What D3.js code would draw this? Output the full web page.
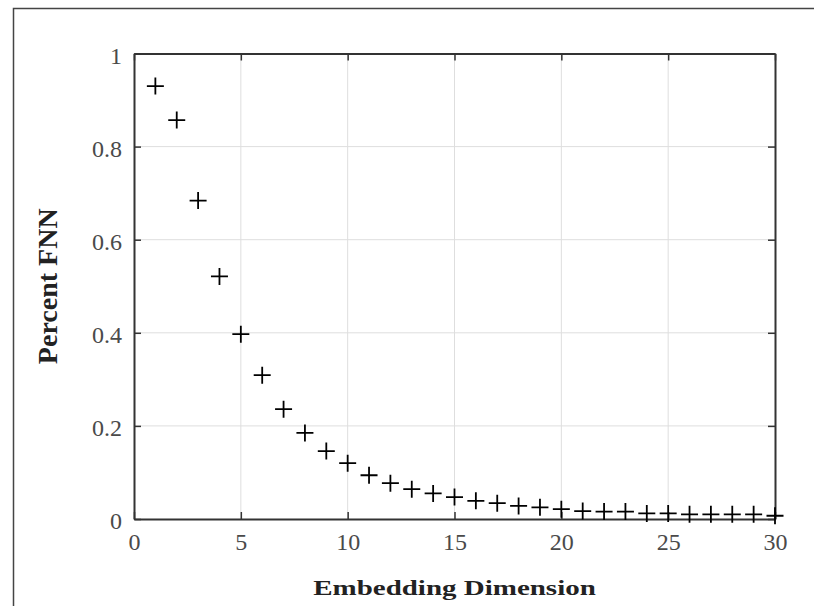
<!DOCTYPE html>
<html>
<head>
<meta charset="utf-8">
<script src="https://cdn.jsdelivr.net/npm/d3@7"></script>
<style>
  body { margin: 0; background: #fff; }
  svg text { font-family: "Liberation Serif", "Times New Roman", serif; }
</style>
</head>
<body>
<div id="chart"></div>
<script>
// embedding dimension vs percent false nearest neighbours
var dims = [1, 2, 3, 4, 5, 6, 7, 8, 9, 10,
            11, 12, 13, 14, 15, 16, 17, 18, 19, 20,
            21, 22, 23, 24, 25, 26, 27, 28, 29, 30];
var fnn = [0.930, 0.857, 0.684, 0.521, 0.397, 0.309, 0.236, 0.185, 0.146, 0.120,
           0.094, 0.077, 0.064, 0.055, 0.047, 0.039, 0.034, 0.028, 0.025, 0.021,
           0.017, 0.016, 0.016, 0.012, 0.012, 0.010, 0.010, 0.010, 0.010, 0.007];
var xTicks = [0, 5, 10, 15, 20, 25, 30];
var yTicks = [0, 0.2, 0.4, 0.6, 0.8, 1];
var xLabel = "Embedding Dimension";
var yLabel = "Percent FNN";

function drawChart() {
    var width = 814, height = 606;
    var pLeft = 134, pRight = 775, pTop = 53.5, pBottom = 519;

    var svg = d3.select("#chart")
        .append("svg")
        .attr("width", width)
        .attr("height", height);

    // outer frame (only left and top edges show in the picture)
    svg.append("path")
        .attr("d", "M13.5," + height + "V8.5H" + width)
        .attr("fill", "none")
        .attr("stroke", "#444")
        .attr("stroke-width", 1.5);

    var x = d3.scaleLinear().domain([0, 30]).range([pLeft, pRight]);
    var y = d3.scaleLinear().domain([0, 1]).range([pBottom, pTop]);

    // grid
    svg.append("g")
        .selectAll("line")
        .data(xTicks.slice(1, -1))
        .enter().append("line")
        .attr("x1", function(d) { return x(d); })
        .attr("x2", function(d) { return x(d); })
        .attr("y1", pTop)
        .attr("y2", pBottom)
        .attr("stroke", "#dedede")
        .attr("stroke-width", 1);

    svg.append("g")
        .selectAll("line")
        .data(yTicks.slice(1, -1))
        .enter().append("line")
        .attr("x1", pLeft)
        .attr("x2", pRight)
        .attr("y1", function(d) { return y(d); })
        .attr("y2", function(d) { return y(d); })
        .attr("stroke", "#dedede")
        .attr("stroke-width", 1);

    // axes, ticks pointing inwards
    var tickLen = 7;
    var xAxis = svg.append("g")
        .attr("transform", "translate(0," + pBottom + ")")
        .call(d3.axisBottom(x).tickValues(xTicks).tickSizeInner(-tickLen).tickSizeOuter(0).tickPadding(14).tickFormat(d3.format("d")));
    var xTop = svg.append("g")
        .attr("transform", "translate(0," + pTop + ")")
        .call(d3.axisTop(x).tickValues(xTicks).tickSizeInner(-tickLen).tickSizeOuter(0).tickFormat(""));
    var yAxis = svg.append("g")
        .attr("transform", "translate(" + pLeft + ",0)")
        .call(d3.axisLeft(y).tickValues(yTicks).tickSizeInner(-tickLen).tickSizeOuter(0).tickPadding(12).tickFormat(function(d) { return d3.format("")(d); }));
    var yRight = svg.append("g")
        .attr("transform", "translate(" + pRight + ",0)")
        .call(d3.axisRight(y).tickValues(yTicks).tickSizeInner(-tickLen).tickSizeOuter(0).tickFormat(""));

    [xAxis, xTop, yAxis, yRight].forEach(function(g) {
        g.select(".domain").attr("stroke", "#333").attr("stroke-width", 2);
        g.selectAll(".tick line").attr("stroke", "#333").attr("stroke-width", 1.5);
        g.selectAll(".tick text")
            .attr("fill", "#4a4a4a")
            .style("font-size", "24px")
            .style("font-family", "'Liberation Serif', serif");
    });
    xAxis.selectAll(".tick text").attr("dy", "0.71em");
    yAxis.selectAll(".tick text").attr("dy", "0.40em");

    // markers
    var half = 8.5;
    svg.append("g")
        .selectAll(".pt")
        .data(dims)
        .enter().append("path")
        .attr("class", "pt")
        .attr("d", function(d, i) {
            var cx = x(d), cy = y(fnn[i]);
            return "M" + (cx - half) + "," + cy + "H" + (cx + half) +
                   "M" + cx + "," + (cy - half) + "V" + (cy + half);
        })
        .attr("fill", "none")
        .attr("stroke", "#000")
        .attr("stroke-width", 1.8);

    // axis titles
    svg.append("text")
        .attr("transform", "translate(" + ((pLeft + pRight) / 2) + ",595) scale(1,0.72)")
        .attr("text-anchor", "middle")
        .attr("fill", "#222")
        .style("font-size", "29px")
        .style("font-weight", "bold")
        .text(xLabel);

    svg.append("text")
        .attr("transform", "translate(57," + ((pTop + pBottom) / 2) + ") rotate(-90)")
        .attr("text-anchor", "middle")
        .attr("fill", "#222")
        .style("font-size", "28px")
        .style("font-weight", "bold")
        .text(yLabel);
}

drawChart();
</script>
</body>
</html>
